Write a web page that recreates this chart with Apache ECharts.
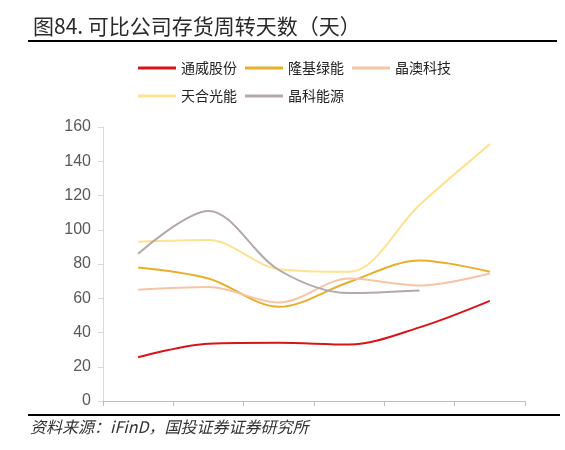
<!DOCTYPE html>
<html>
<head>
<meta charset="utf-8">
<script src="https://cdn.jsdelivr.net/npm/echarts@6/dist/echarts.min.js"></script>
<style>
html,body{margin:0;padding:0;background:#fff;}
#c{width:565px;height:450px;}
</style>
</head>
<body>
<div id="c"></div>
<script>
const categories = ['2018', '2019', '2020', '2021', '2022', '2023Q1-Q3'];
const tongwei = [25.5, 33.5, 34, 33, 43, 58.5];
const longi = [78, 71.5, 55, 69.5, 82, 75.5];
const jaSolar = [65, 66.5, 57.5, 71.5, 67.5, 74.5];
const trina = [93, 94, 77, 75.5, 114.5, 150];
const jinko = [86, 111, 76.5, 63, 64.5, null];
const seriesNames = ['通威股份', '隆基绿能', '晶澳科技', '天合光能', '晶科能源'];
const yTicks = [0, 20, 40, 60, 80, 100, 120, 140, 160];

const colors = ['#D7141A', '#E8AE2C', '#F8C4A6', '#FFE28F', '#B5A8A8'];
const dataList = [tongwei, longi, jaSolar, trina, jinko];
const cjk = '"Noto Sans CJK SC", sans-serif';

const legendCommon = {
  itemWidth: 38, itemHeight: 3, itemGap: 8,
  icon: 'rect',
  textStyle: { fontFamily: cjk, fontSize: 14, color: '#222' }
};

const chart = echarts.init(document.getElementById('c'));
chart.setOption({
  animation: false,
  color: colors,
  title: {
    text: '图84. 可比公司存货周转天数（天）',
    left: 28, top: 11,
    textStyle: { fontFamily: cjk, fontSize: 21, fontWeight: 'normal', color: '#2a2a2a' }
  },
  legend: [
    Object.assign({ left: 133, top: 56, data: seriesNames.slice(0, 3) }, legendCommon),
    Object.assign({ left: 133, top: 84, data: seriesNames.slice(3) }, legendCommon)
  ],
  graphic: [
    { type: 'line', shape: { x1: 28, y1: 41, x2: 557, y2: 41 }, style: { stroke: '#000', lineWidth: 2 } },
    { type: 'line', shape: { x1: 28, y1: 415, x2: 560, y2: 415 }, style: { stroke: '#000', lineWidth: 2 } },
    { type: 'text', left: 30, top: 419, style: { text: '资料来源：iFinD，国投证券证券研究所', font: 'italic 16px "Noto Sans CJK SC", sans-serif', fill: '#333' } }
  ],
  grid: { left: 103, right: 40, top: 127, bottom: 49, containLabel: false },
  xAxis: {
    type: 'category',
    data: categories,
    boundaryGap: true,
    axisLine: { lineStyle: { color: '#BFBFBF', width: 1 } },
    axisTick: { show: true, interval: 0, length: 5, lineStyle: { color: '#BFBFBF' } },
    axisLabel: { show: false, interval: 0 }
  },
  yAxis: {
    type: 'value',
    min: yTicks[0], max: yTicks[yTicks.length - 1], interval: 20,
    axisLine: { show: true, lineStyle: { color: '#D9D9D9', width: 1 } },
    axisTick: { show: true, length: 5, lineStyle: { color: '#D9D9D9' } },
    splitLine: { show: false },
    axisLabel: { fontFamily: 'Liberation Sans, Arial, sans-serif', fontSize: 16, color: '#595959', margin: 12 }
  },
  series: seriesNames.map((n, i) => ({
    name: n,
    type: 'line',
    data: dataList[i],
    smooth: 0.33,
    showSymbol: false,
    symbol: 'none',
    connectNulls: false,
    lineStyle: { width: 2, color: colors[i] },
    itemStyle: { color: colors[i] }
  }))
});
</script>
</body>
</html>
